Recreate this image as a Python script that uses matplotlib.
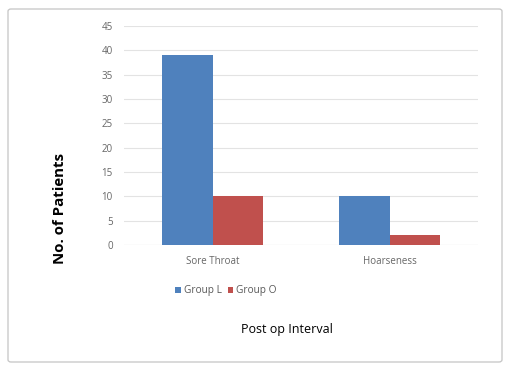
import matplotlib
matplotlib.use("Agg")
import matplotlib.pyplot as plt
from matplotlib.patches import FancyBboxPatch, Patch
import numpy as np

categories = ["Sore Throat", "Hoarseness"]
series_names = ["Group L", "Group O"]
group_l = [39, 10]
group_o = [10, 2]
yticks = [0, 5, 10, 15, 20, 25, 30, 35, 40, 45]

W, H = 505, 371
plt.rcParams['font.family'] = ['Open Sans', 'DejaVu Sans']
fig = plt.figure(figsize=(W / 100, H / 100), dpi=100)

# outer frame
frame = FancyBboxPatch((8 / W, 1 - 362 / H), (502 - 8) / W, (362 - 9) / H,
                       boxstyle="round,pad=0,rounding_size=0.006",
                       transform=fig.transFigure, facecolor="white",
                       edgecolor="#c4c4c4", linewidth=0.9, zorder=-10)
fig.patches.append(frame)

ax = fig.add_axes([124 / W, 1 - 245 / H, (478 - 124) / W, (245 - 26) / H])
ax.set_zorder(5)
ax.set_facecolor("none")
x = np.arange(len(categories))
bw = 0.285
blue = "#4F81BD"
red = "#C0504D"
ax.bar(x - bw / 2, group_l, bw, color=blue, label=series_names[0], zorder=3)
ax.bar(x + bw / 2, group_o, bw, color=red, label=series_names[1], zorder=3)

ax.set_xlim(-0.5, len(categories) - 0.5)
ax.set_ylim(0, 45)
ax.set_yticks(yticks)
ax.set_xticks(x)
ax.set_xticklabels(categories)
for s in ax.spines.values():
    s.set_visible(False)
ax.axhline(0, color="#d9d9d9", linewidth=0.8, zorder=2)
ax.yaxis.grid(True, color="#e3e3e3", linewidth=0.8, zorder=1)
ax.tick_params(axis="both", length=0, colors="#666666", labelsize=7)
ax.tick_params(axis="y", pad=8)
ax.tick_params(axis="x", pad=8)

ax.set_ylabel("No. of Patients", fontsize=10.8, fontweight="bold", color="#000000")
ax.yaxis.set_label_coords((67 - 124) / 354, (245 - 208) / 219)

handles = [Patch(facecolor=blue, label=series_names[0]),
           Patch(facecolor=red, label=series_names[1])]
fig.legend(handles=handles, loc="center", bbox_to_anchor=(226 / W, 1 - 291 / H),
           ncol=2, frameon=False, fontsize=7.3, handlelength=0.55, handleheight=0.6,
           handletextpad=0.3, columnspacing=0.6, labelcolor="#595959")

fig.text(287 / W, 1 - 329 / H, "Post op Interval", ha="center", va="center",
         fontsize=9, color="#000000")

fig.savefig("out.png", dpi=100)
